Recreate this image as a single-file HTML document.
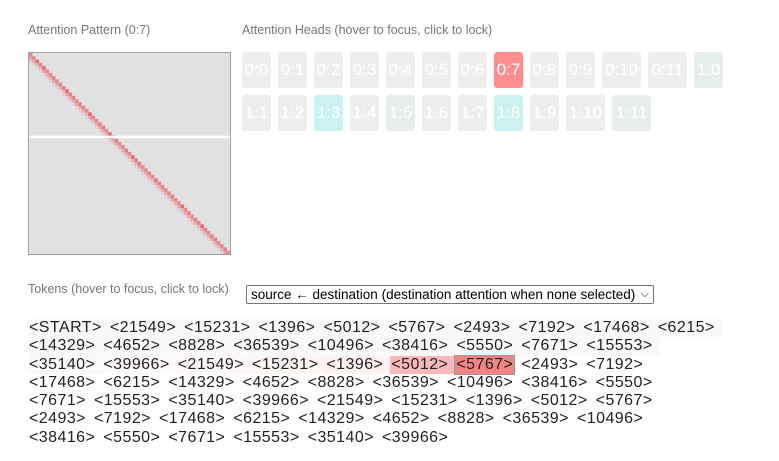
<!DOCTYPE html>
<html><head><meta charset="utf-8"><style>
body{margin:0;background:#fff;font-family:"Liberation Sans",sans-serif;width:779px;height:461px;overflow:hidden;position:relative}
.t{position:absolute;color:#777;font-size:12.5px}
.btn{position:absolute;height:36px;border-radius:3px;background:#eee;color:#fff;font-size:17px;line-height:36px;text-align:center}
#tokens{position:absolute;left:28px;top:319px;width:720px;font-size:16px;line-height:18.3px;color:#222;letter-spacing:0.45px}
.tok{display:inline-block;padding:0 7px 0 1px;white-space:nowrap}
</style></head><body>
<div class="t" style="left:28px;top:23px">Attention Pattern (0:7)</div>
<div class="t" style="left:242px;top:23px">Attention Heads (hover to focus, click to lock)</div>
<svg id="hm" style="position:absolute;left:28px;top:52px" width="203" height="203"></svg>
<div id="heads"></div>
<div class="t" style="left:28px;top:282px">Tokens (hover to focus, click to lock)</div>
<div style="position:absolute;left:246px;top:285px;width:402px;height:17px;border:1px solid #767676;border-radius:2px;font-size:13.5px;line-height:17px;padding-left:4px;color:#000;box-sizing:content-box">source ← destination (destination attention when none selected)<span style="position:absolute;right:4px;top:0;font-size:11px">&#x2335;</span></div>
<div id="tokens"></div>
<script>
const tokens=["<START>","<21549>","<15231>","<1396>","<5012>","<5767>","<2493>","<7192>","<17468>","<6215>","<14329>","<4652>","<8828>","<36539>","<10496>","<38416>","<5550>","<7671>","<15553>","<35140>","<39966>","<21549>","<15231>","<1396>","<5012>","<5767>","<2493>","<7192>","<17468>","<6215>","<14329>","<4652>","<8828>","<36539>","<10496>","<38416>","<5550>","<7671>","<15553>","<35140>","<39966>","<21549>","<15231>","<1396>","<5012>","<5767>","<2493>","<7192>","<17468>","<6215>","<14329>","<4652>","<8828>","<36539>","<10496>","<38416>","<5550>","<7671>","<15553>","<35140>","<39966>"];
const lineBreaks=[10,19,28,37,46,55];
const destIndex=25;
const destAttn=[0.02,0.02,0.02,0.02,0.02,0.02,0.02,0.02,0.02,0.02,0.02,0.02,0.02,0.02,0.02,0.02,0.02,0.02,0.02,0.02,0.03,0.04,0.06,0.08,0.4,0.7];
const diagVals=[0.5,0.55,0.7,0.55,0.75,0.5,0.55,0.6,0.5,0.55,0.6,0.75,0.55,0.6,0.5,0.55,0.6,0.5,0.75,0.55,0.5,0.55,0.6,0.5,0.7,0.65,0.55,0.5,0.55,0.6,0.55,0.75,0.55,0.6,0.5,0.55,0.6,0.5,0.7,0.55,0.6,0.5,0.55,0.6,0.5,0.55,0.75,0.55,0.6,0.5,0.55,0.6,0.75,0.55,0.5,0.55,0.6,0.5,0.55,0.6,0.45];
const prevVals=[0,0.35,0.3,0.3,0.25,0.35,0.3,0.3,0.35,0.3,0.3,0.25,0.35,0.3,0.3,0.35,0.3,0.3,0.25,0.35,0.3,0.3,0.3,0.35,0.3,0.4,0.3,0.35,0.3,0.3,0.35,0.25,0.3,0.3,0.35,0.3,0.3,0.35,0.25,0.3,0.3,0.35,0.3,0.3,0.35,0.3,0.3,0.25,0.3,0.35,0.3,0.3,0.25,0.3,0.35,0.3,0.3,0.35,0.3,0.3,0.35];
const heads=["0:0","0:1","0:2","0:3","0:4","0:5","0:6","0:7","0:8","0:9","0:10","0:11","1:0","1:1","1:2","1:3","1:4","1:5","1:6","1:7","1:8","1:9","1:10","1:11"];
const headColors={"0:7":"#ff8f8f","1:3":"#ccf1f1","1:8":"#ccf1f1","1:0":"#e6eeee","1:5":"#e8eeee","1:11":"#e8eeee"};

const svg=document.getElementById('hm');const NS='http://www.w3.org/2000/svg';
const n=tokens.length, W=201, cs=W/n;
function sc(i){return 1+i*cs;}
let bg=document.createElementNS(NS,'rect');


bg.setAttribute('x',0.5);bg.setAttribute('y',0.5);bg.setAttribute('width',202);bg.setAttribute('height',202);bg.setAttribute('fill','#e1e1e1');bg.setAttribute('stroke','#a0a0a0');svg.appendChild(bg);
function cell(r,c,v){const e=document.createElementNS(NS,'rect');


e.setAttribute('x',sc(c));e.setAttribute('y',sc(r));e.setAttribute('width',cs+0.2);e.setAttribute('height',cs+0.2);e.setAttribute('fill','rgba(235,60,70,'+v+')');svg.appendChild(e);}
for(let i=0;i<n;i++){cell(i,i,diagVals[i]);if(i>0)cell(i,i-1,prevVals[i]);if(i>1)cell(i,i-2,0.08);}
let hl=document.createElementNS(NS,'rect');


hl.setAttribute('x',1);hl.setAttribute('y',sc(destIndex)+0.3);hl.setAttribute('width',201);hl.setAttribute('height',2.6);hl.setAttribute('fill','#fff');svg.appendChild(hl);

const hd=document.getElementById('heads');
let x=242,y=52;
heads.forEach((h,i)=>{if(i==13){x=242;y=95;}
const w=h.length>3?39:29;const b=document.createElement('div');b.className='btn';


b.style.left=x+'px';b.style.top=y+'px';b.style.width=w+'px';b.textContent=h;
if(headColors[h])b.style.background=headColors[h];hd.appendChild(b);x+=w+7;});

const tk=document.getElementById('tokens');
tokens.forEach((t,i)=>{if(lineBreaks.includes(i))tk.appendChild(document.createElement('br'));
const s=document.createElement('span');s.className='tok';


s.textContent=t;
if(i<=destIndex){const v=destAttn[i];s.style.background=v<=0.02?'#f9f9f9':'rgba(240,80,80,'+v+')';}
if(i==destIndex){s.style.outline='1px solid #999';s.style.paddingRight='1px';s.style.marginRight='6px';}
tk.appendChild(s);});
</script>
</body></html>
